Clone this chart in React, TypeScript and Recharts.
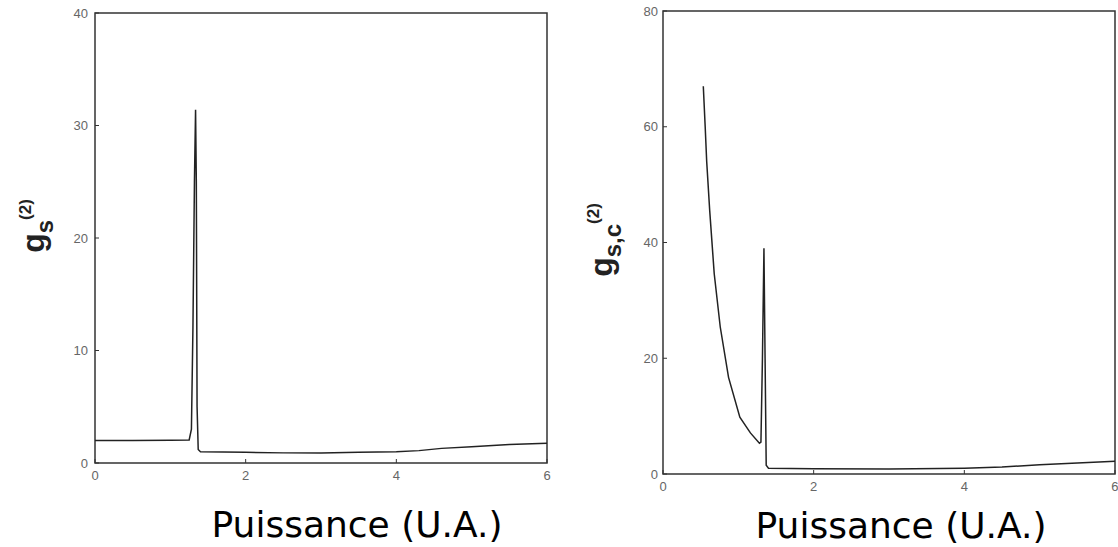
import { Label, Line, LineChart, ReferenceArea, XAxis, YAxis } from "recharts";

// puissance (U.A.) values and g2 readings, left panel
const leftX = [0, 0.5, 1.0, 1.25, 1.28, 1.3, 1.32, 1.335, 1.345, 1.355, 1.37, 1.4, 2.0, 2.5, 3.0, 3.5, 4.0, 4.3, 4.6, 5.0, 5.5, 6.0];
const leftG = [2.0, 2.0, 2.02, 2.05, 3, 12, 25, 31.4, 25, 5, 1.2, 1.0, 0.95, 0.9, 0.9, 0.95, 1.0, 1.1, 1.3, 1.45, 1.65, 1.75];

// right panel (cross-correlation)
const rightX = [0.535, 0.56, 0.58, 0.62, 0.68, 0.76, 0.87, 1.02, 1.16, 1.28, 1.3, 1.32, 1.34, 1.355, 1.37, 1.4, 2.0, 3.0, 4.0, 4.5, 5.0, 5.5, 6.0];
const rightG = [67, 60, 54, 45.5, 34.6, 25.4, 16.7, 9.8, 7.1, 5.3, 5.5, 20, 39, 20, 1.5, 1.0, 0.9, 0.85, 1.0, 1.2, 1.6, 1.9, 2.2];

const xTicks = [0, 2, 4, 6];
const leftYTicks = [0, 10, 20, 30, 40];
const rightYTicks = [0, 20, 40, 60, 80];

const leftData = leftX.map((p, i) => ({ p, g: leftG[i] }));
const rightData = rightX.map((p, i) => ({ p, g: rightG[i] }));

const tickStyle = { fontFamily: "Liberation Sans", fontSize: 13, fill: "#666" };

function XTitle({ x, y }: { x: number; y: number }) {
  return (
    <text x={x} y={y} textAnchor="middle" fontFamily="DejaVu Sans" fontSize={36} fill="#000">
      Puissance (U.A.)
    </text>
  );
}

function YTitle({ x, y, sub }: { x: number; y: number; sub: string }) {
  return (
    <text
      transform={`translate(${x},${y}) rotate(-90)`}
      textAnchor="middle"
      fontFamily="Liberation Sans"
      fontWeight="bold"
      fill="#222"
    >
      <tspan fontSize={32}>g</tspan>
      <tspan fontSize={24} dy={9}>{sub}</tspan>
      <tspan fontSize={17} dy={-22}>(2)</tspan>
    </text>
  );
}

export default function App() {
  return (
    <div style={{ position: "absolute", left: 0, top: 0, width: 1118, height: 547, background: "#fff" }}>
      <div style={{ position: "absolute", left: 0, top: 0 }}>
        <LineChart width={559} height={547} data={leftData} margin={{ top: 13, right: 12, left: 65, bottom: 54 }}>
          <XAxis
            dataKey="p"
            type="number"
            domain={[0, 6]}
            ticks={xTicks}
            height={30}
            axisLine={false}
            tickSize={-4}
            tickLine={{ stroke: "#333" }}
            tickMargin={12}
            tick={tickStyle}
          >
            <Label content={() => <XTitle x={357} y={537} />} />
          </XAxis>
          <YAxis
            type="number"
            domain={[0, 40]}
            ticks={leftYTicks}
            width={30}
            axisLine={false}
            tickSize={-4}
            tickLine={{ stroke: "#333" }}
            tickMargin={11}
            tick={tickStyle}
          >
            <Label content={() => <YTitle x={44} y={226} sub="s" />} />
          </YAxis>
          <ReferenceArea x1={0} x2={6} y1={0} y2={40} fill="none" stroke="#333" strokeWidth={1.5} />
          <Line
            type="linear"
            dataKey="g"
            stroke="#222"
            strokeWidth={1.5}
            dot={false}
            isAnimationActive={false}
          />
        </LineChart>
      </div>
      <div style={{ position: "absolute", left: 559, top: 0 }}>
        <LineChart width={559} height={547} data={rightData} margin={{ top: 11, right: 3, left: 74, bottom: 43 }}>
          <XAxis
            dataKey="p"
            type="number"
            domain={[0, 6]}
            ticks={xTicks}
            height={30}
            axisLine={false}
            tickSize={-4}
            tickLine={{ stroke: "#333" }}
            tickMargin={12}
            tick={tickStyle}
          >
            <Label content={() => <XTitle x={342} y={538} />} />
          </XAxis>
          <YAxis
            type="number"
            domain={[0, 80]}
            ticks={rightYTicks}
            width={30}
            axisLine={false}
            tickSize={-4}
            tickLine={{ stroke: "#333" }}
            tickMargin={9}
            tick={tickStyle}
          >
            <Label content={() => <YTitle x={53} y={240} sub="s,c" />} />
          </YAxis>
          <ReferenceArea x1={0} x2={6} y1={0} y2={80} fill="none" stroke="#333" strokeWidth={1.5} />
          <Line
            type="linear"
            dataKey="g"
            stroke="#222"
            strokeWidth={1.5}
            dot={false}
            isAnimationActive={false}
          />
        </LineChart>
      </div>
    </div>
  );
}
